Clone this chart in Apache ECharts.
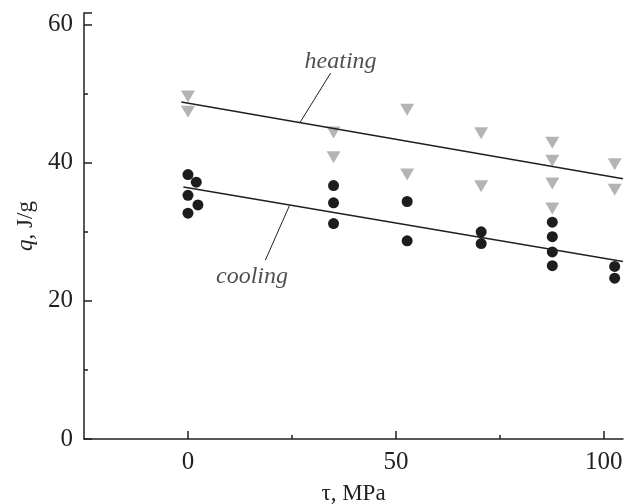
<!DOCTYPE html>
<html>
<head>
<meta charset="utf-8">
<script src="https://cdn.jsdelivr.net/npm/echarts@6/dist/echarts.min.js"></script>
<style>
  html, body { margin: 0; padding: 0; background: #fff; }
  #chart { width: 639px; height: 504px; }
</style>
</head>
<body>
<div id="chart"></div>
<script>
// Heat q (J/g) against stress τ (MPa)
const heatingPoints = [
  [0, 49.6], [0, 47.4],
  [35, 44.4], [35, 40.8],
  [52.7, 47.7], [52.7, 38.3],
  [70.5, 44.3], [70.5, 36.6],
  [87.6, 42.9], [87.6, 40.3], [87.6, 37.0], [87.6, 33.4],
  [102.6, 39.8], [102.6, 36.1]
];
const coolingPoints = [
  [0, 38.3], [2, 37.2], [0, 35.3], [2.4, 33.9], [0, 32.7],
  [35, 36.7], [35, 34.2], [35, 31.2],
  [52.7, 34.4], [52.7, 28.7],
  [70.5, 30.0], [70.5, 28.3],
  [87.6, 31.4], [87.6, 29.3], [87.6, 27.1], [87.6, 25.1],
  [102.6, 25.0], [102.6, 23.3]
];
// Linear fits
const heatingFit = [[-1.6, 48.8], [104.6, 37.7]];
const coolingFit = [[-1.1, 36.5], [104.6, 25.7]];
// Leader lines from each fit to its caption
const heatingLeader = [[27.0, 45.9], [34.3, 53.0]];
const coolingLeader = [[24.4, 33.8], [18.6, 25.9]];
const captions = [
  { name: 'heating', value: [36.7, 54.6] },
  { name: 'cooling', value: [15.4, 23.5] }
];
const xMajorTicks = [0, 50, 100];
const xMinorTicks = [25, 75];

const ink = '#231f20';
const serif = 'Liberation Serif';

const chart = echarts.init(document.getElementById('chart'), null, { renderer: 'canvas' });
chart.setOption({
  animation: false,
  backgroundColor: '#fff',
  textStyle: { fontFamily: serif },
  grid: { left: 84, right: 16, top: 13, bottom: 65, containLabel: false, outerBoundsMode: 'none' },
  xAxis: [{
    type: 'value', min: -25, max: 104.6, interval: 25,
    position: 'bottom',
    axisLine: { show: true, onZero: false, lineStyle: { color: ink, width: 1.5 } },
    axisTick: { show: true, inside: true, length: 8, customValues: xMajorTicks, lineStyle: { color: ink, width: 1.5 } },
    axisLabel: { show: true, customValues: xMajorTicks, margin: 11, color: ink, fontFamily: serif, fontSize: 25 },
    splitLine: { show: false },
    name: 'τ, MPa', nameLocation: 'middle', nameGap: 43,
    nameTextStyle: { color: ink, fontFamily: serif, fontSize: 23 }
  }, {
    type: 'value', min: -25, max: 104.6, interval: 25,
    position: 'bottom', offset: 0,
    axisLine: { show: false, onZero: false },
    axisTick: { show: true, inside: true, length: 4, customValues: xMinorTicks, lineStyle: { color: ink, width: 1.5 } },
    axisLabel: { show: false },
    splitLine: { show: false }
  }],
  yAxis: {
    type: 'value', min: 0, max: 61.7, interval: 20,
    axisLine: { show: true, onZero: false, lineStyle: { color: ink, width: 1.5 } },
    axisTick: { show: true, inside: true, length: 8, lineStyle: { color: ink, width: 1.5 } },
    minorTick: { show: true, splitNumber: 2, length: 4, lineStyle: { color: ink, width: 1.5 } },
    axisLabel: {
      color: ink, fontFamily: serif, fontSize: 25, margin: 11,
      formatter: v => (v % 20 === 0 ? String(v) : '')
    },
    splitLine: { show: false },
    name: '{i|q}, J/g', nameLocation: 'middle', nameGap: 45, nameRotate: 90,
    nameTextStyle: {
      color: ink, fontFamily: serif, fontSize: 23,
      rich: { i: { fontStyle: 'italic', fontFamily: serif, fontSize: 23, color: ink } }
    }
  },
  series: [
    {
      type: 'line', data: heatingFit, symbol: 'none', silent: true,
      lineStyle: { color: ink, width: 1.5 }
    },
    {
      type: 'line', data: coolingFit, symbol: 'none', silent: true,
      lineStyle: { color: ink, width: 1.5 }
    },
    {
      type: 'line', data: heatingLeader, symbol: 'none', silent: true,
      lineStyle: { color: ink, width: 1 }
    },
    {
      type: 'line', data: coolingLeader, symbol: 'none', silent: true,
      lineStyle: { color: ink, width: 1 }
    },
    {
      type: 'scatter', data: heatingPoints,
      symbol: 'triangle', symbolRotate: 180, symbolSize: [14, 12],
      itemStyle: { color: '#b4b4b6', opacity: 1 }
    },
    {
      type: 'scatter', data: coolingPoints,
      symbol: 'circle', symbolSize: 11,
      itemStyle: { color: '#1e1c1d', opacity: 1 }
    },
    {
      type: 'scatter', data: captions, symbolSize: 0, silent: true,
      label: {
        show: true, position: 'inside', formatter: p => p.name,
        color: ink, fontFamily: serif, fontStyle: 'italic', fontSize: 24
      }
    }
  ]
});
</script>
</body>
</html>
